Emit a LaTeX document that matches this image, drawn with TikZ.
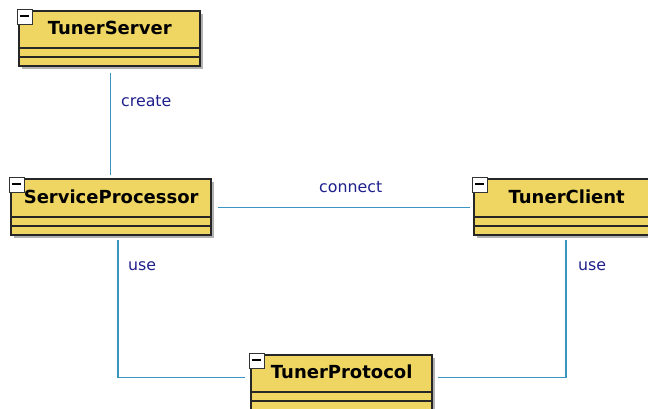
\documentclass[tikz,border=0pt]{standalone}
\usepackage{fontspec}
\setmainfont{DejaVu Sans}
\definecolor{classfill}{RGB}{239,214,98}
\definecolor{conncol}{RGB}{58,150,192}
\definecolor{labcol}{RGB}{32,32,140}
\tikzset{
  classbox/.style={draw=black!85, line width=1.4pt, fill=classfill},
  classshadow/.style={fill=black!30},
  classtitle/.style={inner sep=0pt, font=\bfseries\fontsize{18}{21}\selectfont, text=black},
  iconbox/.style={draw=black!80, line width=0.9pt, fill=white},
  conn/.style={draw=conncol, line width=1.4pt},
  lab/.style={text=labcol, font=\fontsize{15.8}{18}\selectfont, inner sep=0pt}
}
% name, x, y, width, header height, text
\newcommand\umlclass[6]{%
  \fill[classshadow] (#2+3,#3+3) rectangle ++(#4,#5+18);
  \draw[classbox] (#2,#3) rectangle ++(#4,#5+18);
  \draw[black!85, line width=1.4pt] (#2,#3+#5) -- ++(#4,0);
  \draw[black!85, line width=1.4pt] (#2,#3+#5+9) -- ++(#4,0);
  \node[minimum width=#4pt, minimum height=#5pt, inner sep=0pt, anchor=north west] (#1) at (#2,#3) {};
  \node[classtitle] (#1-t) at ([yshift=1.5pt]#1.center) {#6};
  \draw[iconbox] (#2-2,#3-2) rectangle ++(15,15);
  \draw[black, line width=1.2pt] (#2+1,#3+5) -- ++(9,0);
}
\begin{document}
\begin{tikzpicture}[x=1pt,y=-1pt]
\useasboundingbox (0,0) rectangle (648,409);
\clip (0,0) rectangle (648,409);
\fill[white] (0,0) rectangle (648,409);

\umlclass{TS}{19}{11}{181}{37}{TunerServer}
\umlclass{SP}{11}{179}{200}{38}{ServiceProcessor}
\umlclass{TC}{474}{179}{185}{38}{TunerClient}
\umlclass{TP}{251}{355}{181}{37}{TunerProtocol}

% create
\draw[conn] ([xshift=0.5pt,yshift=-25pt]TS.south) -- ([xshift=0.5pt,yshift=4pt]SP.north -| TS.south);
\node[lab, anchor=base west] (lcreate) at (121,107) {create};

% connect
\draw[conn] ([xshift=7pt,yshift=-9.5pt]SP.east) -- ([xshift=-4pt,yshift=-9.5pt]TC.west);
\node[lab, anchor=base west] (lconnect) at (319,192) {connect};

% use (SP - TP)
\coordinate (spuse) at (118,240);
\draw[conn] (spuse) |- ([xshift=-6pt,yshift=-3.5pt]TP.west);
\node[lab, anchor=base west] (luse1) at (128,270) {use};

% use (TC - TP)
\coordinate (tcuse) at (566,240);
\draw[conn] (tcuse) |- ([xshift=6pt,yshift=-3.5pt]TP.east);
\node[lab, anchor=base west] (luse2) at (578,270) {use};
\end{tikzpicture}
\end{document}
